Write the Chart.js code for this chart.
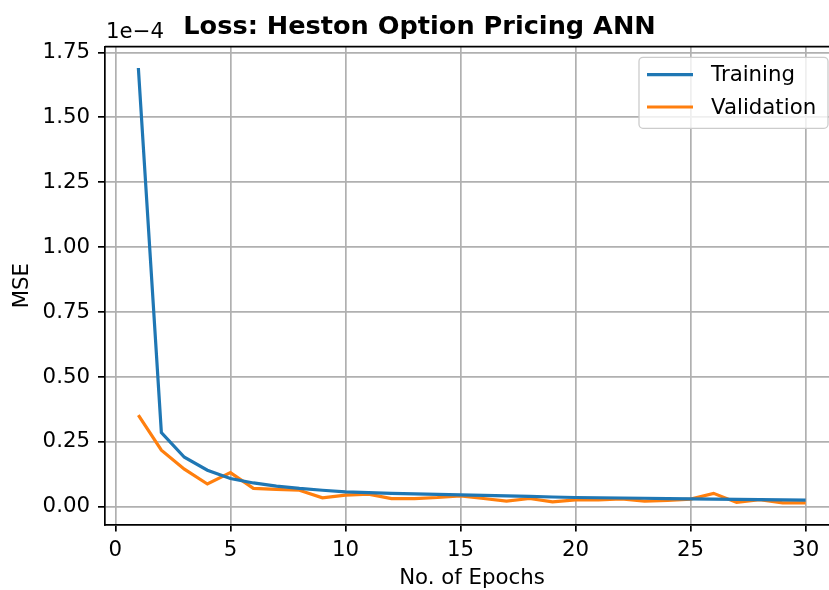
<!DOCTYPE html>
<html>
<head>
<meta charset="utf-8">
<script src="https://cdn.jsdelivr.net/npm/chart.js@4/dist/chart.umd.min.js"></script>
<style>
  html, body { margin: 0; padding: 0; background: #fff; overflow: hidden; }
  #wrap { width: 842px; height: 590px; }
</style>
</head>
<body>
<div id="wrap"><canvas id="lossChart" width="842" height="590"></canvas></div>
<script>
// Loss history (MSE, in units of 1e-4) for the Heston option pricing network
const epochs = [1, 2, 3, 4, 5, 6, 7, 8, 9, 10, 11, 12, 13, 14, 15,
                16, 17, 18, 19, 20, 21, 22, 23, 24, 25, 26, 27, 28, 29, 30];
const trainingLoss = [1.690, 0.286, 0.191, 0.141, 0.109, 0.092, 0.080, 0.071, 0.064, 0.058,
                      0.055, 0.052, 0.050, 0.048, 0.046, 0.044, 0.042, 0.040, 0.038, 0.036,
                      0.035, 0.034, 0.033, 0.032, 0.031, 0.030, 0.029, 0.028, 0.027, 0.026];
const validationLoss = [0.353, 0.218, 0.145, 0.088, 0.132, 0.071, 0.067, 0.064, 0.035, 0.045,
                        0.049, 0.032, 0.032, 0.036, 0.042, 0.032, 0.022, 0.032, 0.019, 0.027,
                        0.027, 0.031, 0.022, 0.025, 0.030, 0.052, 0.017, 0.028, 0.015, 0.015];
const xTicks = [0, 5, 10, 15, 20, 25, 30];
const yTicks = [0, 0.25, 0.5, 0.75, 1.0, 1.25, 1.5, 1.75];
const seriesNames = ['Training', 'Validation'];
const seriesColors = ['#1f77b4', '#ff7f0e'];
const scaleExponentText = '1e\u22124';

const FONT = 'DejaVu Sans';
const FS = 21.3;

const toPoints = (ys) => ys.map((y, i) => ({ x: epochs[i], y }));

// Top/right frame lines, the offset exponent and a boxed legend
const frameAndLegend = {
  id: 'frameAndLegend',
  afterDraw(chart) {
    const { ctx, chartArea: a } = chart;
    ctx.save();
    ctx.strokeStyle = '#000';
    ctx.lineWidth = 1.7;
    ctx.beginPath();
    ctx.moveTo(a.left, a.top);
    ctx.lineTo(a.right, a.top);
    ctx.lineTo(a.right, a.bottom);
    ctx.stroke();

    ctx.fillStyle = '#000';
    ctx.font = `${FS}px "${FONT}"`;
    ctx.textAlign = 'left';
    ctx.textBaseline = 'alphabetic';
    ctx.fillText(scaleExponentText, a.left + 1, a.top - 9);

    // legend
    const w = 189, h = 71;
    const x0 = a.right - 11 - w, y0 = a.top + 10.6;
    ctx.beginPath();
    const r = 4;
    ctx.moveTo(x0 + r, y0);
    ctx.arcTo(x0 + w, y0, x0 + w, y0 + h, r);
    ctx.arcTo(x0 + w, y0 + h, x0, y0 + h, r);
    ctx.arcTo(x0, y0 + h, x0, y0, r);
    ctx.arcTo(x0, y0, x0 + w, y0, r);
    ctx.closePath();
    ctx.fillStyle = 'rgba(255,255,255,0.8)';
    ctx.fill();
    ctx.strokeStyle = '#cccccc';
    ctx.lineWidth = 1.3;
    ctx.stroke();

    chart.data.datasets.forEach((ds, i) => {
      const yy = y0 + 17.3 + i * 32.4;
      ctx.strokeStyle = ds.borderColor;
      ctx.lineWidth = ds.borderWidth;
      ctx.beginPath();
      ctx.moveTo(x0 + 8, yy);
      ctx.lineTo(x0 + 54, yy);
      ctx.stroke();
      ctx.fillStyle = '#000';
      ctx.textBaseline = 'middle';
      ctx.fillText(ds.label, x0 + 72, yy + 1);
    });
    ctx.restore();
  }
};

new Chart(document.getElementById('lossChart'), {
  type: 'line',
  data: {
    datasets: [
      { label: seriesNames[0], data: toPoints(trainingLoss), borderColor: seriesColors[0],
        backgroundColor: seriesColors[0], borderWidth: 3.2, pointRadius: 0, tension: 0, fill: false },
      { label: seriesNames[1], data: toPoints(validationLoss), borderColor: seriesColors[1],
        backgroundColor: seriesColors[1], borderWidth: 3.2, pointRadius: 0, tension: 0, fill: false }
    ]
  },
  options: {
    responsive: false,
    animation: false,
    devicePixelRatio: 1,
    layout: { padding: { left: 0, right: 3, top: 0, bottom: 0 } },
    plugins: {
      legend: { display: false },
      tooltip: { enabled: false },
      title: {
        display: true,
        text: 'Loss: Heston Option Pricing ANN',
        color: '#000',
        font: { family: FONT, size: 25.6, weight: 'bold', lineHeight: 1.2 },
        padding: { top: 12, bottom: 4 }
      }
    },
    scales: {
      x: {
        type: 'linear',
        min: -0.45,
        max: 31.45,
        afterBuildTicks: (s) => { s.ticks = xTicks.map(v => ({ value: v })); },
        afterFit: (s) => { s.height = 65.5; },
        ticks: { color: '#000', font: { family: FONT, size: FS }, padding: 6,
                 maxRotation: 0, autoSkip: false, callback: (v) => String(v) },
        grid: { color: '#b0b0b0', lineWidth: 1.7, tickColor: '#000', tickLength: 7, tickWidth: 1.7 },
        border: { color: '#000', width: 1.7 },
        title: { display: true, text: 'No. of Epochs', color: '#000',
                 font: { family: FONT, size: FS, lineHeight: 1 }, padding: { top: 0, bottom: 0.5 } }
      },
      y: {
        type: 'linear',
        min: -0.068,
        max: 1.772,
        afterBuildTicks: (s) => { s.ticks = yTicks.map(v => ({ value: v })); },
        afterFit: (s) => { s.width = 105; },
        ticks: { color: '#000', font: { family: FONT, size: FS }, padding: 8,
                 autoSkip: false, callback: (v) => Number(v).toFixed(2) },
        grid: { color: '#b0b0b0', lineWidth: 1.7, tickColor: '#000', tickLength: 7, tickWidth: 1.7 },
        border: { color: '#000', width: 1.7 },
        title: { display: true, text: 'MSE', color: '#000',
                 font: { family: FONT, size: FS, lineHeight: 1 }, padding: { top: 11.7, bottom: 0 } }
      }
    }
  },
  plugins: [frameAndLegend]
});
</script>
</body>
</html>
